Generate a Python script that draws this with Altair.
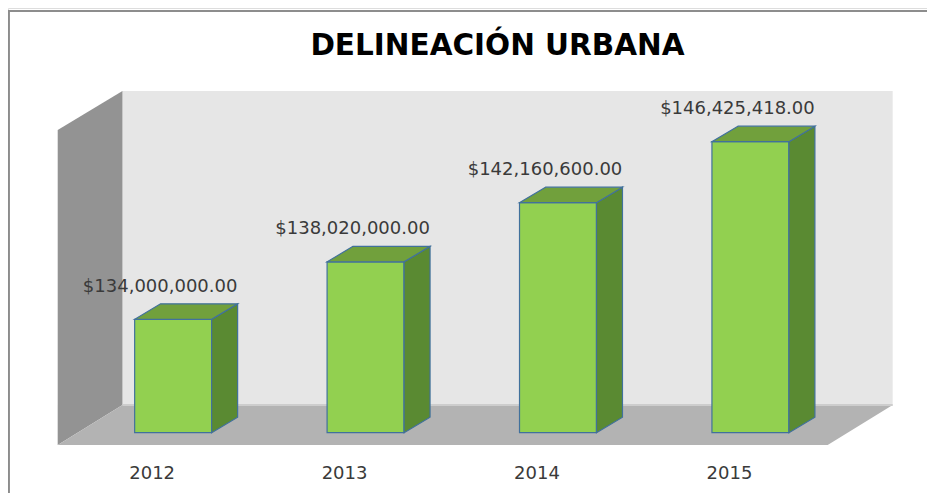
import altair as alt
import pandas as pd

# ---- data ----
years = ["2012", "2013", "2014", "2015"]
values = [134000000.00, 138020000.00, 142160600.00, 146425418.00]
title_text = "DELINEACIÓN URBANA"

# ---- pseudo-3D geometry (in scale units) ----
BASE = 126.066e6          # bar base value on the bars' plane
HALF = 0.2                # half bar width (category units)
DX = 0.1351               # bar depth, x (category units)
DY = 1.0845e6             # bar depth, y (value units)

# frame (walls / floor)
WX_FRONT, WX_BACK = -0.5999, -0.2634
WX_RIGHT_FRONT, WX_RIGHT_BACK = 3.4015, 3.7393
FLOOR_FRONT, FLOOR_BACK = 125.205e6, 128.004e6
TOP_FRONT, TOP_BACK = 147.244e6, 149.973e6

W, H = 919, 485
xs = alt.Scale(domain=[-0.8582, 3.9176], nice=False, zero=False)
ys = alt.Scale(domain=[121.847e6, 155.780e6], nice=False, zero=False)

idx = list(range(len(years)))
bars = pd.DataFrame({"i": idx, "year": years, "value": values})
bars["x0"] = bars["i"] - HALF
bars["x1"] = bars["i"] + HALF
bars["base"] = BASE
bars["top3d"] = bars["value"] + DY

top_rows, side_rows = [], []
for i, v in zip(idx, values):
    top_rows.append({"bar": i, "y": v, "xa": i - HALF, "xb": i + HALF})
    top_rows.append({"bar": i, "y": v + DY, "xa": i - HALF + DX, "xb": i + HALF + DX})
    side_rows.append({"bar": i, "x": i + HALF, "ya": BASE, "yb": v})
    side_rows.append({"bar": i, "x": i + HALF + DX, "ya": BASE + DY, "yb": v + DY})
tops = pd.DataFrame(top_rows)
sides = pd.DataFrame(side_rows)

back_wall = pd.DataFrame({"x": [WX_BACK], "x2": [WX_RIGHT_BACK], "y": [FLOOR_BACK], "y2": [TOP_BACK]})
left_wall = pd.DataFrame({"x": [WX_FRONT, WX_BACK], "y": [FLOOR_FRONT, FLOOR_BACK], "y2": [TOP_FRONT, TOP_BACK]})
floor = pd.DataFrame({"y": [FLOOR_FRONT, FLOOR_BACK], "x": [WX_FRONT, WX_BACK], "x2": [WX_RIGHT_FRONT, WX_RIGHT_BACK]})
floor_edge = pd.DataFrame({"x": [WX_BACK], "x2": [WX_RIGHT_BACK], "y": [FLOOR_BACK]})

OUTLINE = "#41719C"

back = alt.Chart(back_wall).mark_rect(color="#E6E6E6").encode(
    x=alt.X("x:Q", scale=xs, axis=None), x2="x2:Q",
    y=alt.Y("y:Q", scale=ys, axis=None), y2="y2:Q")

left = alt.Chart(left_wall).mark_area(color="#939393", orient="vertical").encode(
    x=alt.X("x:Q", scale=xs, axis=None),
    y=alt.Y("y:Q", scale=ys, axis=None), y2="y2:Q")

flo = alt.Chart(floor).mark_area(color="#B3B3B3", orient="horizontal").encode(
    y=alt.Y("y:Q", scale=ys, axis=None),
    x=alt.X("x:Q", scale=xs, axis=None), x2="x2:Q")

edge = alt.Chart(floor_edge).mark_rule(color="#CDCDCD", strokeWidth=2).encode(
    x=alt.X("x:Q", scale=xs, axis=None), x2="x2:Q",
    y=alt.Y("y:Q", scale=ys, axis=None))

front = alt.Chart(bars).mark_rect(color="#92D050", stroke=OUTLINE, strokeWidth=1.2).encode(
    x=alt.X("x0:Q", scale=xs, axis=None), x2="x1:Q",
    y=alt.Y("base:Q", scale=ys, axis=None), y2="value:Q")

side = alt.Chart(sides).mark_area(color="#5A8A32", stroke=OUTLINE, strokeWidth=1.2,
                                  orient="vertical").encode(
    x=alt.X("x:Q", scale=xs, axis=None),
    y=alt.Y("ya:Q", scale=ys, axis=None), y2="yb:Q",
    detail="bar:N")

top = alt.Chart(tops).mark_area(color="#71A03C", stroke=OUTLINE, strokeWidth=1.2,
                                orient="horizontal").encode(
    y=alt.Y("y:Q", scale=ys, axis=None),
    x=alt.X("xa:Q", scale=xs, axis=None), x2="xb:Q",
    detail="bar:N")

labels = alt.Chart(bars).mark_text(font="DejaVu Sans", fontSize=18, color="#3A3A3A",
                                   baseline="alphabetic", dx=-13, dy=-12).encode(
    x=alt.X("i:Q", scale=xs, axis=None),
    y=alt.Y("top3d:Q", scale=ys, axis=None),
    text=alt.Text("value:Q", format="$,.2f"))

year_labels = alt.Chart(bars).mark_text(font="DejaVu Sans", fontSize=18, color="#3A3A3A",
                                        baseline="alphabetic", dx=-21).encode(
    x=alt.X("i:Q", scale=xs, axis=None),
    y=alt.value(471.3),
    text="year:N")

border_top = alt.Chart(bars).mark_rule(color="#8C8C8C", strokeWidth=1.5).encode(
    x=alt.value(0), x2=alt.value(W), y=alt.value(3))
border_left = alt.Chart(bars).mark_rule(color="#8C8C8C", strokeWidth=1.5).encode(
    x=alt.value(0.75), y=alt.value(3), y2=alt.value(H))

chart = alt.layer(
    back, left, flo, edge, front, side, top, labels, year_labels, border_top, border_left
).properties(
    width=W, height=H,
    autosize=alt.AutoSizeParams(type="none"),
    padding=0,
    title=alt.TitleParams(title_text, anchor="middle", font="DejaVu Sans", fontSize=29.5,
                          fontWeight="bold", color="#000000", baseline="alphabetic",
                          offset=0, dy=76, dx=30),
).configure_view(stroke=None).configure(background="white")

chart.save("out.html", embed_options={"renderer": "svg", "actions": False})
